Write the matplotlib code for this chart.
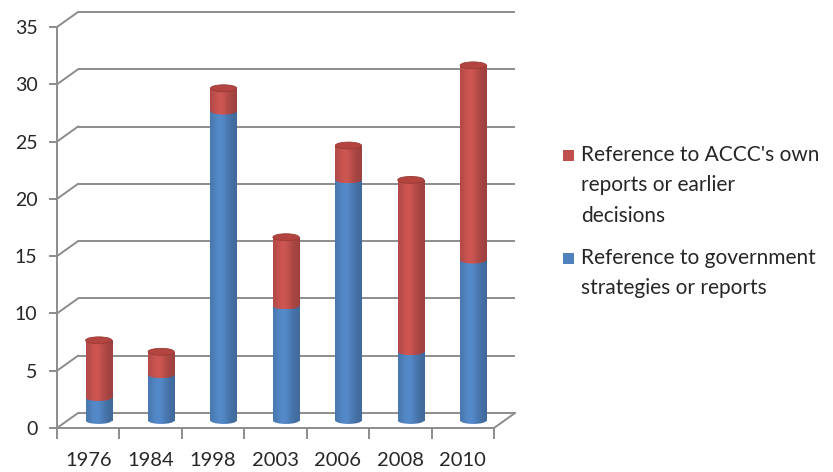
import numpy as np
import matplotlib.pyplot as plt
from matplotlib.patches import Rectangle, Ellipse

years = ["1976", "1984", "1998", "2003", "2006", "2008", "2010"]
gov_reports = [2, 4, 27, 10, 21, 6, 14]
accc_reports = [5, 2, 2, 6, 3, 15, 17]
labels = ["Reference to ACCC's own\nreports or earlier\ndecisions",
          "Reference to government\nstrategies or reports"]
BLUE = "#4f81bd"
RED = "#c0504d"
GRID = "#8c8c8c"
TXT = "#262626"

plt.rcParams['font.family'] = ['Lato', 'DejaVu Sans']

fig = plt.figure(figsize=(8.33, 4.72), dpi=100)
ax = fig.add_axes([57 / 833, 1 - 428 / 472, 437 / 833, 401 / 472])
n = len(years)
ymax = 35
ax.set_xlim(-0.5, n - 0.5)
ax.set_ylim(0, ymax)

# fake 3d depth, in data units (21px right, 15px up)
DX = 21 / (437 / n)
DY = 15 / (401 / ymax)
W = 0.42
EH = 0.6

yt = np.arange(0, ymax + 1, 5)
# back wall gridlines + left wall diagonals
ax.hlines(yt + DY, -0.5 + DX, n - 0.5 + DX, color=GRID, lw=1.4, clip_on=False, zorder=1)
for y in yt:
    ax.plot([-0.5, -0.5 + DX], [y, y + DY], color=GRID, lw=1.4, clip_on=False, zorder=1)
ax.plot([n - 0.5, n - 0.5 + DX], [0, DY], color=GRID, lw=1.4, clip_on=False, zorder=1)


def shade(color):
    base = np.array(plt.matplotlib.colors.to_rgb(color))
    t = np.linspace(0, 1, 60)
    f = 0.9 + 0.2 * np.exp(-((t - 0.4) / 0.3) ** 2) - 0.08 * t
    img = np.clip(base[None, :] * f[:, None], 0, 1)
    return img[None, :, :]


def cylinder(x, y0, y1, color, cap, z):
    # body + rounded bottom share one gradient image clipped to both
    rect = Rectangle((x - W / 2, y0), W, y1 - y0, facecolor="none", edgecolor="none", zorder=z)
    bot = Ellipse((x, y0), W, EH, facecolor="none", edgecolor="none", zorder=z)
    ax.add_patch(rect)
    ax.add_patch(bot)
    im = ax.imshow(shade(color), extent=[x - W / 2, x + W / 2, y0, y1],
                   aspect="auto", zorder=z, interpolation="bilinear")
    im.set_clip_path(rect)
    im2 = ax.imshow(shade(color), extent=[x - W / 2, x + W / 2, y0 - EH / 2, y0 + EH / 2],
                    aspect="auto", zorder=z, interpolation="bilinear")
    im2.set_clip_path(bot)
    if cap:
        ax.add_patch(Ellipse((x, y1), W, EH, facecolor="#b3443f", edgecolor="#9a3b38",
                             lw=0.6, zorder=z + 0.1))


for i in range(n):
    x = i + DX / 2
    b = gov_reports[i]
    t = b + accc_reports[i]
    cylinder(x, DY / 2, DY / 2 + b, BLUE, False, 3)
    cylinder(x, DY / 2 + b, DY / 2 + t, RED, True, 4)

ax.set_xlim(-0.5, n - 0.5)
ax.set_ylim(0, ymax)

for s in ["top", "right"]:
    ax.spines[s].set_visible(False)
for s in ["left", "bottom"]:
    ax.spines[s].set_color(GRID)
    ax.spines[s].set_linewidth(1.4)

ax.set_yticks(yt)
ax.tick_params(axis="y", length=6, width=1.4, color=GRID, labelsize=14,
               labelcolor=TXT, pad=8)
ax.set_xticks(np.arange(-0.5, n, 1))
ax.set_xticklabels([])
ax.tick_params(axis="x", which="major", length=8, width=1.4, color=GRID)
ax.set_xticks(np.arange(n), minor=True)
ax.set_xticklabels(years, minor=True)
ax.tick_params(axis="x", which="minor", length=0, labelsize=14.5, labelcolor=TXT, pad=17)

# legend
colors = [RED, BLUE]
ys = [155, 258]
for lab, c, yy in zip(labels, colors, ys):
    fig.add_artist(Rectangle((563 / 833, 1 - (yy + 6) / 472), 11 / 833, 11 / 472,
                             transform=fig.transFigure, facecolor=c, edgecolor="none"))
    fig.text(581 / 833, 1 - (yy - 10) / 472, lab, va="top", ha="left",
             fontsize=15, color=TXT, linespacing=1.65)

fig.savefig("out.png", dpi=100)
